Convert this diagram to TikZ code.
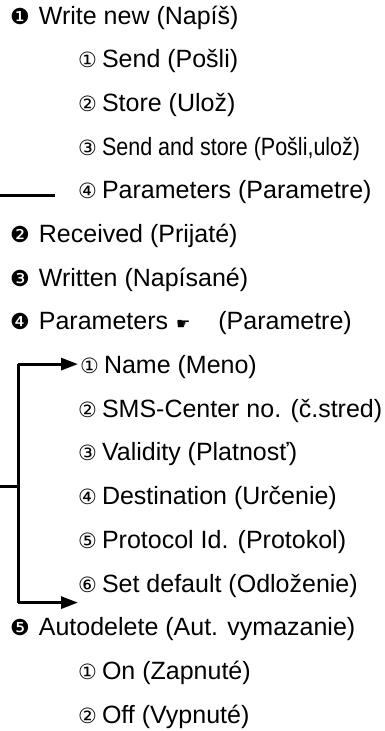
\documentclass[tikz,border=0pt]{standalone}
\usepackage{fontspec}
\setmainfont{Liberation Sans}
\newfontfamily\symfont{DejaVu Sans}
\usetikzlibrary{arrows.meta,calc}
\newcommand\bnum[1]{\smash{\symfont\fontsize{22}{22}\selectfont #1}\hspace{9pt}}
\newcommand\cnum[1]{\smash{\symfont\fontsize{21}{21}\selectfont #1}\hspace{5pt}}
\begin{document}
\begin{tikzpicture}[x=1pt,y=-1pt,
  item/.style={inner sep=0pt, anchor=west, font=\fontsize{25}{28}\selectfont},
  conn/.style={line width=3pt, line join=miter},
  tip/.style={-{Triangle[length=17pt,width=12pt]}}
]
\useasboundingbox (0,0) rectangle (384,731);
\fill[white] (0,0) rectangle (384,731);
\node[item] (wn)  at (10,17.5)  {\bnum{❶}Write new (Napíš)};
\node[item] (snd) at (78,61.2)  {\cnum{①}Send (Pošli)};
\node[item] (sto) at (78,104.9) {\cnum{②}Store (Ulož)};
\node[item] (sas) at (78,148.6) {\cnum{③}\scalebox{0.86}[1]{Send and store (Pošli,ulož)}};
\node[item] (par) at (78,192.3) {\cnum{④}Parameters (Parametre)};
\node[item] (rec) at (10,236) {\bnum{❷}Received (Prijaté)};
\node[item] (wri) at (10,279.7) {\bnum{❸}Written (Napísané)};
\node[item] (prm) at (10,323.4) {\bnum{❹}Parameters \hspace{1pt}{\symfont\fontsize{16}{16}\selectfont ☛}\hspace{28pt}(Parametre)};
\node[item] (nam) at (80,367.1) {\cnum{①}Name (Meno)};
\node[item] (sms) at (78,410.8) {\cnum{②}SMS-Center no. (č.stred)};
\node[item] (val) at (78,454.5) {\cnum{③}Validity (Platnosť)};
\node[item] (dst) at (78,498.2) {\cnum{④}Destination (Určenie)};
\node[item] (pro) at (78,541.9) {\cnum{⑤}Protocol Id. (Protokol)};
\node[item] (def) at (78,585.6) {\cnum{⑥}Set default (Odloženie)};
\node[item] (aut) at (10,629.3) {\bnum{❺}Autodelete (Aut. vymazanie)};
\node[item] (on)  at (78,673) {\cnum{①}On (Zapnuté)};
\node[item] (off) at (78,716.7) {\cnum{②}Off (Vypnuté)};
% line left of item 4
\coordinate (la) at (0,195);
\coordinate (lb) at (55,195);
\draw[conn] (la) -- (lb);
% bracket
\coordinate (ttip) at ($(nam.west)+(-2,-3)$);
\coordinate (btip) at ($(def.west)+(0,17)$);
\coordinate (tcor) at (18,0 |- ttip);
\coordinate (bcor) at (18,0 |- btip);
\draw[conn,tip] (tcor) -- (ttip);
\draw[conn,tip] (bcor) -- (btip);
\draw[conn] (tcor) -- (bcor);
\coordinate (sa) at (0,486);
\coordinate (sb) at (18,486);
\draw[conn] (sa) -- (sb);
\end{tikzpicture}
\end{document}
